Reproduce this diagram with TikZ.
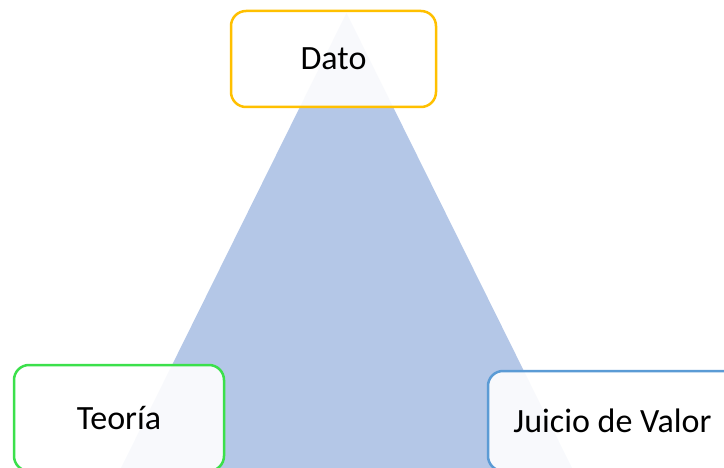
\documentclass[tikz,border=0pt]{standalone}
\usepackage{fontspec}
\setmainfont{Carlito}
\definecolor{tri}{HTML}{B4C7E7}
\definecolor{cOrange}{HTML}{FFC000}
\definecolor{cGreen}{HTML}{3BE04B}
\definecolor{cBlue}{HTML}{5B9BD5}
\begin{document}
\begin{tikzpicture}[x=1pt,y=-1pt,
  box/.style={rounded corners=15pt, line width=2.5pt, fill=white, fill opacity=0.91, text opacity=1,
    font=\fontsize{34}{40}\selectfont, text=black, inner sep=0pt}]
\useasboundingbox (0,0) rectangle (724,468);
\clip (0,0) rectangle (724,468);
\fill[tri] (346.5,13) -- (572,468) -- (121,468) -- cycle;
\node[box, draw=cOrange, minimum width=205pt, minimum height=96pt] (dato) at (333.5,59) {Dato};
\node[box, draw=cGreen, minimum width=210pt, minimum height=106pt] (teoria) at (119,418) {Teoría};
\node[box, draw=cBlue, minimum width=249pt, minimum height=100pt] (juicio) at (612.5,421) {Juicio de Valor};
\end{tikzpicture}
\end{document}
